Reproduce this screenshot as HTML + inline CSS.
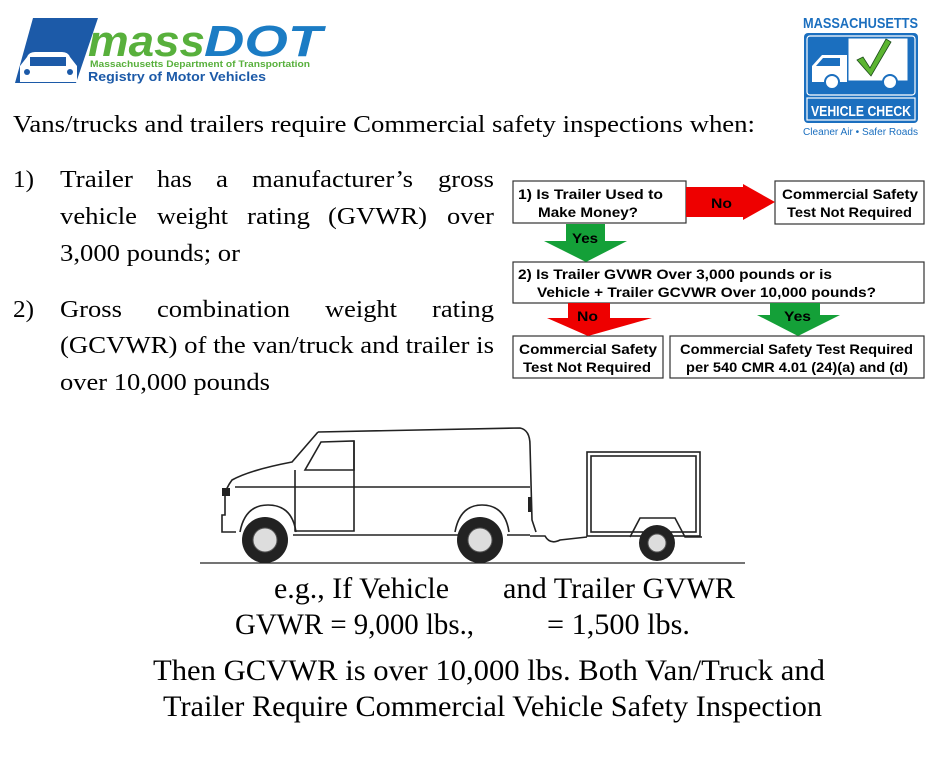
<!DOCTYPE html>
<html><head><meta charset="utf-8"><style>
html,body{margin:0;padding:0;background:#fff;}
svg{display:block;}
</style></head><body>
<svg width="947" height="757" viewBox="0 0 947 757" xmlns="http://www.w3.org/2000/svg">
<rect width="947" height="757" fill="#fff"/>
<!-- massDOT logo -->
<polygon points="33,18 98,18 76,83 15,83" fill="#1c5aa8"/>
<path d="M20,82 L20,66 L27,57 Q29,52 35,52 L62,52 Q68,52 70,57 L77,66 L77,82 Z" fill="#fff"/>
<rect x="30" y="57" width="36" height="9" fill="#1c5aa8"/>
<circle cx="27" cy="72" r="3" fill="#1c5aa8"/><circle cx="70" cy="72" r="3" fill="#1c5aa8"/>
<text x="88" y="56" font-family="Liberation Sans,sans-serif" font-weight="bold" font-style="italic" font-size="44" fill="#58b03c" textLength="117" lengthAdjust="spacingAndGlyphs">mass</text>
<text x="204" y="56" font-family="Liberation Sans,sans-serif" font-weight="bold" font-style="italic" font-size="44" fill="#1b7cc4" textLength="118" lengthAdjust="spacingAndGlyphs">DOT</text>
<text x="90" y="67" font-family="Liberation Sans,sans-serif" font-weight="bold" font-size="9.5" fill="#58b03c" textLength="220" lengthAdjust="spacingAndGlyphs">Massachusetts Department of Transportation</text>
<text x="88" y="81" font-family="Liberation Sans,sans-serif" font-weight="bold" font-size="13" fill="#1c5aa8" textLength="178" lengthAdjust="spacingAndGlyphs">Registry of Motor Vehicles</text>
<!-- Vehicle check logo -->
<text x="803" y="28" font-family="Liberation Sans,sans-serif" font-weight="bold" font-size="15" fill="#1b6fbf" textLength="115" lengthAdjust="spacingAndGlyphs">MASSACHUSETTS</text>
<rect x="804" y="33" width="114" height="90" rx="4" fill="#1b6fbf"/>
<rect x="807" y="36" width="108" height="59" rx="3" fill="none" stroke="#fff" stroke-width="1.2"/>
<rect x="848" y="38" width="60" height="43" fill="#fff" stroke="#1b6fbf" stroke-width="1"/>
<path d="M812,82 L812,66 L822,55 L847,55 L847,82 Z" fill="#fff"/>
<path d="M816,66 L823,58 L840,58 L840,66 Z" fill="#1b6fbf"/>
<circle cx="832" cy="82" r="7" fill="#fff" stroke="#1b6fbf" stroke-width="2"/>
<circle cx="890" cy="82" r="7" fill="#fff" stroke="#1b6fbf" stroke-width="2"/>
<path d="M857,60 L863,57 L870,68 L886,39 L891,42 L871,76 Z" fill="#5cb531" stroke="#1a4a1a" stroke-width="0.8"/>
<rect x="807" y="98" width="108" height="22" fill="none" stroke="#fff" stroke-width="1.2"/>
<text x="811" y="116" font-family="Liberation Sans,sans-serif" font-weight="bold" font-size="15" fill="#fff" textLength="100" lengthAdjust="spacingAndGlyphs">VEHICLE CHECK</text>
<text x="803" y="135" font-family="Liberation Sans,sans-serif" font-size="10" fill="#1b6fbf" textLength="115" lengthAdjust="spacingAndGlyphs">Cleaner Air • Safer Roads</text>
<!-- heading -->
<text font-family="Liberation Serif,serif" x="13" y="132" font-size="24" textLength="742" lengthAdjust="spacingAndGlyphs">Vans/trucks and trailers require Commercial safety inspections when:</text>
<!-- list -->
<g font-family="Liberation Serif,serif" font-size="24" lengthAdjust="spacingAndGlyphs">
<text x="13" y="187" textLength="21" lengthAdjust="spacingAndGlyphs">1)</text>
<text x="60" y="187" textLength="73" lengthAdjust="spacingAndGlyphs">Trailer</text>
<text x="157" y="187" textLength="35" lengthAdjust="spacingAndGlyphs">has</text>
<text x="216" y="187" textLength="12" lengthAdjust="spacingAndGlyphs">a</text>
<text x="252" y="187" textLength="161" lengthAdjust="spacingAndGlyphs">manufacturer’s</text>
<text x="438" y="187" textLength="56" lengthAdjust="spacingAndGlyphs">gross</text>
<text x="60" y="224" textLength="77" lengthAdjust="spacingAndGlyphs">vehicle</text>
<text x="157" y="224" textLength="71" lengthAdjust="spacingAndGlyphs">weight</text>
<text x="247" y="224" textLength="63" lengthAdjust="spacingAndGlyphs">rating</text>
<text x="328" y="224" textLength="99" lengthAdjust="spacingAndGlyphs">(GVWR)</text>
<text x="447" y="224" textLength="47" lengthAdjust="spacingAndGlyphs">over</text>
<text x="60" y="261" textLength="180" lengthAdjust="spacingAndGlyphs">3,000 pounds; or</text>
<text x="13" y="317" textLength="21" lengthAdjust="spacingAndGlyphs">2)</text>
<text x="60" y="317" textLength="62" lengthAdjust="spacingAndGlyphs">Gross</text>
<text x="157" y="317" textLength="133" lengthAdjust="spacingAndGlyphs">combination</text>
<text x="325" y="317" textLength="72" lengthAdjust="spacingAndGlyphs">weight</text>
<text x="432" y="317" textLength="62" lengthAdjust="spacingAndGlyphs">rating</text>
<text x="60" y="353" textLength="434" lengthAdjust="spacingAndGlyphs">(GCVWR) of the van/truck and trailer is</text>
<text x="60" y="390" textLength="210" lengthAdjust="spacingAndGlyphs">over 10,000 pounds</text>
</g>
<!-- flowchart -->
<g stroke="#333" stroke-width="1.2" fill="#fff">
<rect x="513" y="181" width="173" height="42"/>
<rect x="775" y="181" width="149" height="43"/>
<rect x="513" y="262" width="411" height="41"/>
<rect x="513" y="336" width="150" height="42"/>
<rect x="670" y="336" width="254" height="42"/>
</g>
<polygon points="686,187 743,187 743,184 775,202 743,220 743,217 686,217" fill="#ee0000"/>
<polygon points="566,224 605,224 605,241 627,241 586,262 544,241 566,241" fill="#14a038"/>
<polygon points="568,303 610,303 610,318 652,318 588,336 547,318 568,318" fill="#ee0000"/>
<polygon points="770,303 820,303 820,315 840,315 798,336 757,315 770,315" fill="#14a038"/>
<g font-family="Liberation Sans,sans-serif" font-weight="bold" font-size="14">
<text x="518" y="199" textLength="145" lengthAdjust="spacingAndGlyphs">1)  Is Trailer Used to</text>
<text x="538" y="217" textLength="100" lengthAdjust="spacingAndGlyphs">Make Money?</text>
<text x="711" y="208" textLength="21" lengthAdjust="spacingAndGlyphs">No</text>
<text x="782" y="199" textLength="136" lengthAdjust="spacingAndGlyphs">Commercial Safety</text>
<text x="787" y="217" textLength="125" lengthAdjust="spacingAndGlyphs">Test Not Required</text>
<text x="572" y="243" textLength="26" lengthAdjust="spacingAndGlyphs">Yes</text>
<text x="518" y="279" textLength="314" lengthAdjust="spacingAndGlyphs">2)  Is Trailer GVWR Over 3,000 pounds or is</text>
<text x="537" y="297" textLength="339" lengthAdjust="spacingAndGlyphs">Vehicle + Trailer GCVWR Over 10,000 pounds?</text>
<text x="577" y="321" textLength="21" lengthAdjust="spacingAndGlyphs">No</text>
<text x="784" y="321" textLength="27" lengthAdjust="spacingAndGlyphs">Yes</text>
<text x="519" y="354" textLength="138" lengthAdjust="spacingAndGlyphs">Commercial Safety</text>
<text x="523" y="372" textLength="128" lengthAdjust="spacingAndGlyphs">Test Not Required</text>
<text x="680" y="354" textLength="233" lengthAdjust="spacingAndGlyphs">Commercial Safety Test Required</text>
<text x="686" y="372" textLength="222" lengthAdjust="spacingAndGlyphs">per 540 CMR 4.01 (24)(a) and (d)</text>
</g>
<!-- van -->
<g fill="none" stroke="#222" stroke-width="1.6">
<path d="M318,432 L520,428 Q530,430 530,445 L532,520 L536,532"/>
<path d="M318,432 L292,462 Q250,470 232,480 Q226,488 225,495 L225,515 L222,515 L222,532 L236,532"/>
<path d="M293,535 L470,535 M507,535 L530,535"/>
<path d="M235,487 L530,487"/>
<path d="M321,442 L354,441 L354,470 L305,470 Z"/>
<path d="M295,470 L295,531 L354,531 L354,441"/>
<path d="M240,532 Q245,505 268,505 Q292,505 296,532"/>
<path d="M455,532 Q460,505 482,505 Q505,505 509,532"/>
<path d="M530,536 L545,536 Q550,545 560,540 L587,537"/>
<rect x="587" y="452" width="113" height="84"/>
<rect x="591" y="456" width="105" height="76"/>
<path d="M630,537 L640,518 L675,518 L685,537 L702,537"/>
<path d="M200,563 L745,563" stroke-width="1.2"/>
</g>
<g fill="#222">
<circle cx="265" cy="540" r="23"/><circle cx="480" cy="540" r="23"/><circle cx="657" cy="543" r="18"/>
<rect x="222" y="488" width="8" height="8"/>
<rect x="528" y="497" width="4" height="15"/>
</g>
<g fill="#ddd" stroke="#555">
<circle cx="265" cy="540" r="12"/><circle cx="480" cy="540" r="12"/><circle cx="657" cy="543" r="9"/>
</g>
<!-- bottom text -->
<g font-family="Liberation Serif,serif" font-size="30">
<text x="274" y="598" textLength="175" lengthAdjust="spacingAndGlyphs">e.g., If Vehicle</text>
<text x="503" y="598" textLength="232" lengthAdjust="spacingAndGlyphs">and Trailer GVWR</text>
<text x="235" y="634" textLength="239" lengthAdjust="spacingAndGlyphs">GVWR = 9,000 lbs.,</text>
<text x="547" y="634" textLength="143" lengthAdjust="spacingAndGlyphs">= 1,500 lbs.</text>
<text x="153" y="680" textLength="672" lengthAdjust="spacingAndGlyphs">Then GCVWR is over 10,000 lbs.  Both Van/Truck and</text>
<text x="163" y="716" textLength="659" lengthAdjust="spacingAndGlyphs">Trailer Require Commercial Vehicle Safety Inspection</text>
</g>
</svg>
</body></html>
